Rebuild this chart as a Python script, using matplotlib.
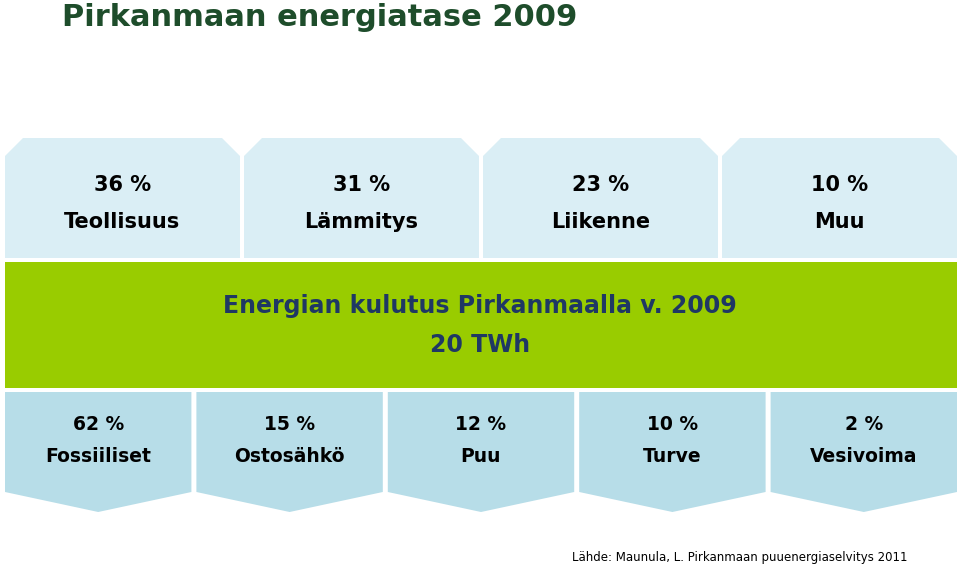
import matplotlib.pyplot as plt
from matplotlib.patches import Polygon, Rectangle

top_pct = ["36 %", "31 %", "23 %", "10 %"]
top_labels = ["Teollisuus", "Lämmitys", "Liikenne", "Muu"]
bot_pct = ["62 %", "15 %", "12 %", "10 %", "2 %"]
bot_labels = ["Fossiiliset", "Ostosähkö", "Puu", "Turve", "Vesivoima"]

fig = plt.figure(figsize=(9.6, 5.66), dpi=100)
ax = fig.add_axes([0, 0, 1, 1])
ax.set_xlim(0, 960)
ax.set_ylim(566, 0)
ax.axis("off")

navy = "#1f3864"
fig.text(62 / 960, 1 - 18 / 566, "Pirkanmaan energiatase 2009", fontsize=22,
         fontweight="bold", color="#1e4d2b", va="center", ha="left")

# top boxes
left, right, gap = 5, 957, 4
w = (right - left - gap * 3) / 4
for i, (p, l) in enumerate(zip(top_pct, top_labels)):
    x0 = left + i * (w + gap)
    x1 = x0 + w
    c = 18
    ax.add_patch(Polygon([(x0, 258), (x0, 138 + c), (x0 + c, 138), (x1 - c, 138),
                          (x1, 138 + c), (x1, 258)], closed=True,
                         facecolor="#daeef5", edgecolor="none"))
    xc = (x0 + x1) / 2
    ax.text(xc, 185, p, ha="center", va="center", fontsize=15, fontweight="bold", color="black")
    ax.text(xc, 222, l, ha="center", va="center", fontsize=15, fontweight="bold", color="black")

# green band
ax.add_patch(Rectangle((5, 262), 952, 126, facecolor="#99cc00", edgecolor="none"))
ax.text(480, 306, "Energian kulutus Pirkanmaalla v. 2009", ha="center", va="center",
        fontsize=17, fontweight="bold", color=navy)
ax.text(480, 345, "20 TWh", ha="center", va="center", fontsize=17,
        fontweight="bold", color=navy)

# bottom boxes
gap = 5
w = (right - left - gap * 4) / 5
for i, (p, l) in enumerate(zip(bot_pct, bot_labels)):
    x0 = left + i * (w + gap)
    x1 = x0 + w
    xc = (x0 + x1) / 2
    ax.add_patch(Polygon([(x0, 392), (x1, 392), (x1, 492), (xc, 512), (x0, 492)],
                         closed=True, facecolor="#b7dde8", edgecolor="none"))
    ax.text(xc, 424, p, ha="center", va="center", fontsize=13.5, fontweight="bold", color="black")
    ax.text(xc, 457, l, ha="center", va="center", fontsize=13.5, fontweight="bold", color="black")

ax.text(907, 557, "Lähde: Maunula, L. Pirkanmaan puuenergiaselvitys 2011", ha="right",
        va="center", fontsize=8.5, color="black")

fig.savefig("out.png", dpi=100)
